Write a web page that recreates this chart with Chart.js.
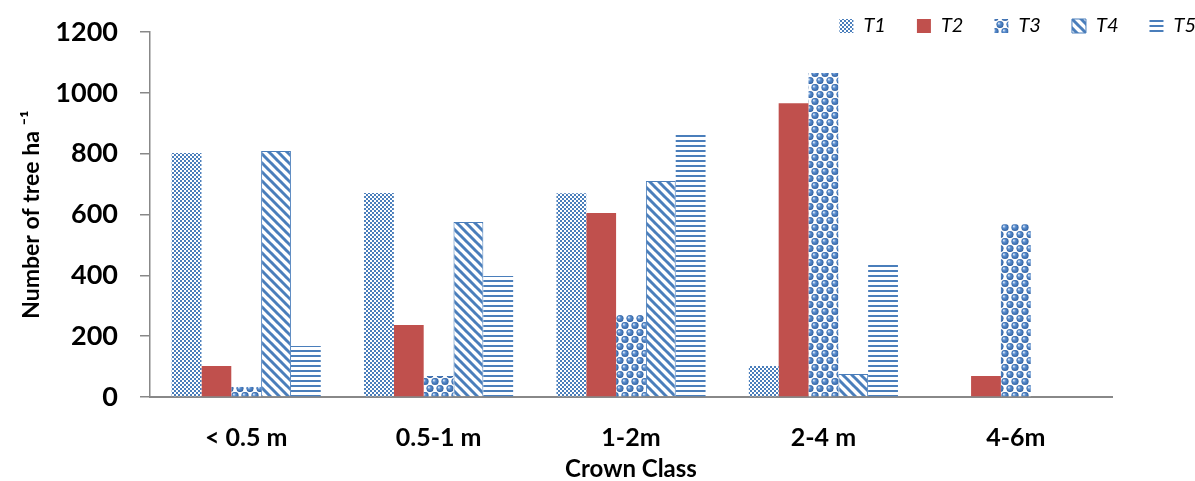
<!DOCTYPE html>
<html>
<head>
<meta charset="utf-8">
<script src="https://cdn.jsdelivr.net/npm/chart.js@4/dist/chart.umd.min.js"></script>
<style>
  html, body { margin: 0; padding: 0; background: #fff; }
  #wrap { width: 1195px; height: 481px; }
</style>
</head>
<body>
<div id="wrap"><canvas id="myChart" width="1195" height="481"></canvas></div>
<script>
// data
const crownClasses = ['< 0.5 m', '0.5-1 m', '1-2m', '2-4 m', '4-6m'];
const seriesNames = ['T1', 'T2', 'T3', 'T4', 'T5'];
const t1 = [802, 671, 670, 102, null];
const t2 = [102, 237, 605, 966, 69];
const t3 = [33, 69, 270, 1065, 568];
const t4 = [809, 575, 710, 76, null];
const t5 = [168, 398, 868, 437, null];
const yTicks = [0, 200, 400, 600, 800, 1000, 1200];

const BLUE = '#4a7ebb';
const GREY = '#888888';

// small tiles for the fill patterns
const makeTile = (w, h, draw) => {
  const c = document.createElement('canvas');
  c.width = w; c.height = h;
  const g = c.getContext('2d');
  g.fillStyle = '#fff';
  g.fillRect(0, 0, w, h);
  draw(g, w, h);
  return g.createPattern(c, 'repeat');
};

const checker = makeTile(4, 4, g => {
  g.fillStyle = BLUE;
  g.fillRect(0, 0, 2, 2);
  g.fillRect(2, 2, 2, 2);
});

const spheres = makeTile(10, 14, (g, w, h) => {
  const ball = (x, y) => {
    for (const dx of [-w, 0, w]) for (const dy of [-h, 0, h]) {
      const cx = x + dx, cy = y + dy;
      const grad = g.createRadialGradient(cx - 1.3, cy - 1.3, 0.3, cx, cy, 3.8);
      grad.addColorStop(0, '#dbe7f6');
      grad.addColorStop(0.35, '#5b8fd0');
      grad.addColorStop(1, '#2f5f9e');
      g.fillStyle = grad;
      g.beginPath();
      g.arc(cx, cy, 3.6, 0, Math.PI * 2);
      g.fill();
    }
  };
  ball(5, 3.5);
  ball(0, 10.5);
});

const diagonal = makeTile(9, 9, (g, w, h) => {
  g.strokeStyle = BLUE;
  g.lineWidth = 3;
  for (const off of [-w, 0, w]) {
    g.beginPath();
    g.moveTo(off - 1, -1);
    g.lineTo(off + w + 1, h + 1);
    g.stroke();
  }
});

const horizontal = makeTile(4, 5, g => {
  g.fillStyle = BLUE;
  g.fillRect(0, 0, 4, 2);
});

const fills = [checker, '#c0504d', spheres, diagonal, horizontal];
const values = [t1, t2, t3, t4, t5];

const datasets = seriesNames.map((name, i) => ({
  label: name,
  data: values[i],
  backgroundColor: fills[i],
  borderColor: i === 3 ? BLUE : 'rgba(0,0,0,0)',
  borderWidth: i === 3 ? 1 : 0,
}));

// keep the legend out of the layout and place it beside the top tick
const legendPlacer = {
  id: 'legendPlacer',
  beforeInit(chart) {
    const lg = chart.legend;
    const fit = lg.fit;
    lg.fit = function () {
      fit.call(this);
      this.height = 1;
    };
  },
  afterLayout(chart) {
    const lg = chart.legend;
    lg.top = -15;
    lg.bottom = 60;
    lg.left += 32;
    lg.right += 32;
  }
};

new Chart(document.getElementById('myChart').getContext('2d'), {
  type: 'bar',
  data: { labels: crownClasses, datasets },
  plugins: [legendPlacer],
  options: {
    responsive: false,
    animation: false,
    layout: { padding: { top: 31, left: 0, right: 0, bottom: 0 } },
    datasets: { bar: { categoryPercentage: 0.775, barPercentage: 1 } },
    plugins: {
      tooltip: { enabled: false },
      legend: {
        position: 'top',
        align: 'end',
        labels: {
          boxWidth: 14,
          boxHeight: 14,
          padding: 31,
          color: '#000',
          font: { family: 'Lato', size: 20, style: 'italic' }
        }
      }
    },
    scales: {
      x: {
        afterFit: s => { s.height = 84; },
        grid: { display: false },
        border: { display: true, color: GREY, width: 2 },
        ticks: {
          color: '#000',
          padding: 18,
          maxRotation: 0,
          font: { family: 'Lato', size: 25, weight: 'bold' }
        },
        title: {
          display: true,
          text: 'Crown Class',
          color: '#000',
          padding: { top: 0, bottom: -3 },
          font: { family: 'Lato', size: 24, weight: 'bold' }
        }
      },
      y: {
        min: 0,
        max: 1200,
        afterFit: s => {
          s.width = 150;
          s.paddingTop = 10;
          s.paddingBottom = 10;
        },
        afterBuildTicks: s => { s.ticks = yTicks.map(v => ({ value: v })); },
        grid: {
          display: true,
          drawOnChartArea: false,
          drawTicks: true,
          tickLength: 10,
          color: GREY,
          lineWidth: 1.5
        },
        border: { display: true, color: GREY, width: 1.5 },
        ticks: {
          color: '#000',
          padding: 22,
          callback: v => String(v),
          font: { family: 'Lato', size: 27, weight: 'bold' }
        },
        title: {
          display: true,
          text: 'Number of tree ha ⁻¹',
          color: '#000',
          padding: { top: 18, bottom: 0 },
          font: { family: 'Lato', size: 23, weight: 'bold' }
        }
      },
      // empty right-hand axis, only to leave the margin on the right
      yr: {
        position: 'right',
        afterFit: s => { s.width = 83; },
        grid: { display: false },
        border: { display: false },
        ticks: { display: false }
      }
    }
  }
});
</script>
</body>
</html>
